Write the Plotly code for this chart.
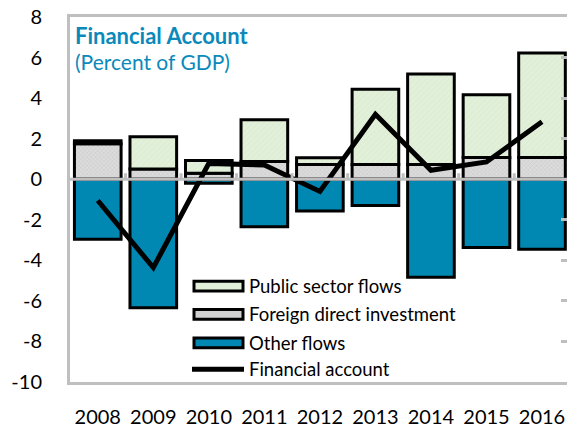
import plotly.graph_objects as go

# ---------------- data ----------------
years = ["2008", "2009", "2010", "2011", "2012", "2013", "2014", "2015", "2016"]
public_sector = [0.15, 1.60, 0.62, 2.05, 0.33, 3.71, 4.46, 3.09, 5.16]
fdi = [1.75, 0.50, 0.30, 0.88, 0.73, 0.73, 0.73, 1.07, 1.07]
other_flows = [-2.96, -6.34, -0.20, -2.34, -1.57, -1.30, -4.83, -3.37, -3.45]
financial_account = [-1.05, -4.36, 0.78, 0.70, -0.60, 3.20, 0.44, 0.85, 2.83]
y_ticks = [8, 6, 4, 2, 0, -2, -4, -6, -8, -10]
y_tick_labels = ["8", "6", "4", "2", "0", "-2", "-4", "-6", "-8", "-10"]
series_names = ["Public sector flows", "Foreign direct investment", "Other flows", "Financial account"]

# ---------------- layout constants ----------------
W, H = 567, 428
ML, MR, MT, MB = 70, 0, 17, 38
PW, PH = W - ML - MR, H - MT - MB
FONT = "Lato"
GRAY = "#bfbfbf"
TEAL = "#0088b2"
GREEN = "#e2f0da"
FDI_GRAY = "#d2d2d2"
TITLE_BLUE = "#0a89bb"


def px_x(px):
    return (px - ML) / PW


def px_y(py):
    return (H - MB - py) / PH


fig = go.Figure()

fig.add_trace(go.Bar(
    x=years, y=fdi, name=series_names[1],
    marker=dict(color=FDI_GRAY, line=dict(color="black", width=3),
                pattern=dict(shape="x", fgcolor="#a8a8a8", bgcolor="#dcdcdc", size=3, solidity=0.25)),
    showlegend=False))
fig.add_trace(go.Bar(
    x=years, y=public_sector, name=series_names[0],
    marker=dict(color=GREEN, line=dict(color="black", width=3),
                pattern=dict(shape="/", fgcolor="#d3e8c9", bgcolor=GREEN, size=4, solidity=0.25)),
    showlegend=False))
fig.add_trace(go.Bar(
    x=years, y=other_flows, name=series_names[2],
    marker=dict(color=TEAL, line=dict(color="black", width=3)),
    showlegend=False))
fig.add_trace(go.Scatter(
    x=years, y=financial_account, name=series_names[3], mode="lines",
    line=dict(color="black", width=5), yaxis="y2", showlegend=False))

shapes = []
# zero line over the bars
shapes.append(dict(type="line", xref="paper", x0=0, x1=1, yref="y", y0=0, y1=0,
                   line=dict(color=GRAY, width=3), layer="above"))
# small category-boundary ticks on the zero line
for i in range(len(years) - 1):
    shapes.append(dict(type="line", xref="x", x0=i + 0.5, x1=i + 0.5,
                       yref="y", ysizemode="pixel", yanchor=0, y0=0, y1=6,
                       line=dict(color=GRAY, width=3), layer="above"))

# manual legend
legend_rows = [292, 321, 350, 377]
legend_fills = [GREEN, "#cfcfcf", TEAL]
for k in range(3):
    cy = legend_rows[k]
    shapes.append(dict(type="rect", xref="paper", yref="paper",
                       x0=px_x(194), x1=px_x(243), y0=px_y(cy + 5), y1=px_y(cy - 5),
                       fillcolor=legend_fills[k], line=dict(color="black", width=3), layer="above"))
shapes.append(dict(type="line", xref="paper", yref="paper",
                   x0=px_x(192), x1=px_x(244), y0=px_y(legend_rows[3]), y1=px_y(legend_rows[3]),
                   line=dict(color="black", width=5), layer="above"))

annotations = []
for k in range(4):
    annotations.append(dict(xref="paper", yref="paper", x=px_x(247), y=px_y(legend_rows[k]),
                            xanchor="left", yanchor="middle", showarrow=False,
                            text=series_names[k], font=dict(family=FONT, size=18.5, color="black")))
annotations.append(dict(xref="paper", yref="paper", x=px_x(73), y=px_y(36),
                        xanchor="left", yanchor="middle", showarrow=False,
                        text="<b>Financial Account</b>", font=dict(family=FONT, size=22, color=TITLE_BLUE)))
annotations.append(dict(xref="paper", yref="paper", x=px_x(73), y=px_y(62),
                        xanchor="left", yanchor="middle", showarrow=False,
                        text="(Percent of GDP)", font=dict(family=FONT, size=21, color=TITLE_BLUE)))

fig.update_layout(
    width=W, height=H, autosize=False,
    margin=dict(l=ML, r=MR, t=MT, b=MB, pad=0),
    paper_bgcolor="white", plot_bgcolor="white",
    barmode="relative", bargap=0.16,
    font=dict(family=FONT, size=20, color="black"),
    shapes=shapes, annotations=annotations,
    xaxis=dict(type="category", categoryorder="array", categoryarray=years,
               range=[-0.5, len(years) - 0.55],
               showline=True, linecolor=GRAY, linewidth=3, mirror=True,
               ticks="", showgrid=False, zeroline=False,
               tickfont=dict(family=FONT, size=20, color="black"),
               ticklabelstandoff=15, layer="above traces"),
    yaxis=dict(range=[-10, 8], tickvals=y_ticks, ticktext=y_tick_labels,
               showline=True, linecolor=GRAY, linewidth=3, mirror=False,
               ticks="", showgrid=False, zeroline=False,
               tickfont=dict(family=FONT, size=20, color="black"),
               ticklabelstandoff=21, layer="above traces"),
    yaxis2=dict(range=[-10, 8], tickvals=y_ticks, overlaying="y", side="right",
                anchor="x", showline=False, showgrid=False, zeroline=False,
                showticklabels=False, ticks="inside", ticklen=6, tickwidth=3,
                tickcolor=GRAY),
)

fig.write_html("out.html", config={"displayModeBar": False},
               post_script="document.body.style.margin='0';")
